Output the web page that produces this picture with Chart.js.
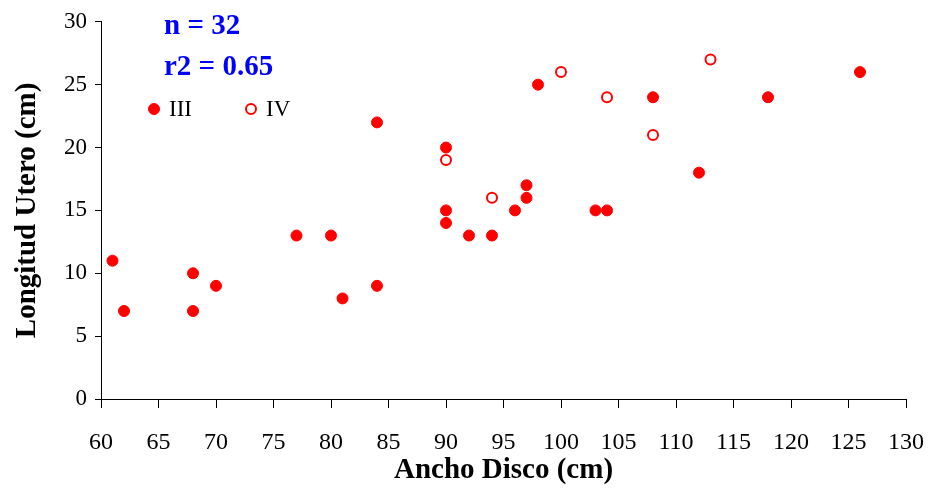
<!DOCTYPE html>
<html>
<head>
<meta charset="utf-8">
<script src="https://cdn.jsdelivr.net/npm/chart.js@4"></script>
<style>
  html, body { margin: 0; padding: 0; background: #fff; }
  #wrap { width: 932px; height: 494px; }
</style>
</head>
<body>
<div id="wrap"><canvas id="scatter"></canvas></div>
<script>
// Estadio III (puntos llenos)
const anchoIII = [61, 62, 68, 68, 70, 77, 80, 81, 84, 84, 90, 90, 90, 92, 94, 96, 97, 97, 98, 103, 104, 108, 112, 118, 126];
const longIII  = [11, 7, 10, 7, 9, 13, 13, 8, 9, 22, 20, 15, 14, 13, 13, 15, 17, 16, 25, 15, 15, 24, 18, 24, 26];
// Estadio IV (puntos huecos)
const anchoIV = [90, 94, 100, 104, 108, 113];
const longIV  = [19, 16, 26, 24, 21, 27];

const statsLines = ["n = 32", "r2 = 0.65"];
const xTicks = { min: 60, max: 130, step: 5 };
const yTicks = { min: 0, max: 30, step: 5 };

const serif = "'Liberation Serif', 'Times New Roman', serif";
const red = "#ff0000";

function toPoints(xs, ys) {
    return xs.map((x, i) => ({ x: x, y: ys[i] }));
}

// texto n / r2 y leyenda dentro del area
const overlay = {
    id: "overlay",
    afterDraw(chart) {
        const ctx = chart.ctx;
        ctx.save();
        ctx.fillStyle = "#0000ff";
        ctx.font = "bold 29px " + serif;
        ctx.textBaseline = "middle";
        ctx.textAlign = "left";
        ctx.fillText(statsLines[0], 164, 27);
        ctx.fillText(statsLines[1], 164, 68);

        const items = [{ ds: chart.data.datasets[0], x: 154 }, { ds: chart.data.datasets[1], x: 251 }];
        ctx.font = "23px " + serif;
        items.forEach(it => {
            ctx.beginPath();
            ctx.arc(it.x, 109, it.ds.pointRadius, 0, Math.PI * 2);
            ctx.fillStyle = it.ds.pointBackgroundColor;
            ctx.fill();
            ctx.lineWidth = it.ds.pointBorderWidth;
            ctx.strokeStyle = it.ds.pointBorderColor;
            ctx.stroke();
            ctx.fillStyle = "#000";
            ctx.fillText(it.ds.label, it.x + 15, 110);
        });
        ctx.restore();
    }
};

new Chart(document.getElementById("scatter"), {
    type: "scatter",
    data: {
        datasets: [
            {
                label: "III",
                data: toPoints(anchoIII, longIII),
                pointRadius: 5.5,
                pointBackgroundColor: red,
                pointBorderColor: red,
                pointBorderWidth: 1
            },
            {
                label: "IV",
                data: toPoints(anchoIV, longIV),
                pointRadius: 5,
                pointBackgroundColor: "#fff",
                pointBorderColor: red,
                pointBorderWidth: 2
            }
        ]
    },
    options: {
        responsive: true,
        maintainAspectRatio: false,
        animation: false,
        layout: { padding: { top: 17, right: 26, left: 0, bottom: 0 } },
        plugins: {
            legend: { display: false },
            tooltip: { enabled: false }
        },
        scales: {
            x: {
                type: "linear",
                min: xTicks.min,
                max: xTicks.max,
                afterFit(scale) {
                    scale.height = 95;
                    scale.paddingLeft = 0;
                    scale.paddingRight = 0;
                },
                grid: { drawOnChartArea: false, tickLength: 9, tickColor: "#000", tickWidth: 1 },
                border: { color: "#000", width: 1 },
                ticks: {
                    stepSize: xTicks.step,
                    color: "#000",
                    padding: 20,
                    maxRotation: 0,
                    font: { family: serif, size: 24 }
                },
                title: {
                    display: true,
                    text: "Ancho Disco (cm)",
                    color: "#000",
                    padding: { top: 0, bottom: 6 },
                    font: { family: serif, size: 29, weight: "bold" }
                }
            },
            y: {
                min: yTicks.min,
                max: yTicks.max,
                afterFit(scale) { scale.width = 101; },
                grid: { drawOnChartArea: false, tickLength: 6, tickColor: "#000", tickWidth: 1 },
                border: { color: "#000", width: 1 },
                ticks: {
                    stepSize: yTicks.step,
                    color: "#000",
                    padding: 8,
                    font: { family: serif, size: 23 }
                },
                title: {
                    display: true,
                    text: "Longitud Utero (cm)",
                    color: "#000",
                    padding: { top: 10, bottom: 0 },
                    font: { family: serif, size: 29, weight: "bold" }
                }
            }
        }
    },
    plugins: [overlay]
});
</script>
</body>
</html>
